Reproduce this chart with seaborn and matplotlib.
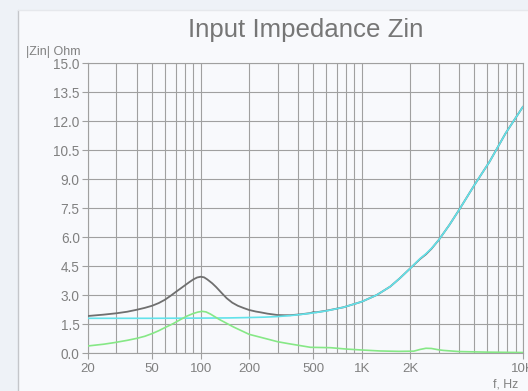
import matplotlib
matplotlib.use("Agg")
import matplotlib.pyplot as plt
import matplotlib.ticker as mticker
from matplotlib.patches import Rectangle
from matplotlib.lines import Line2D
import numpy as np
import pandas as pd
import seaborn as sns

# --- data -------------------------------------------------------------------
# total input impedance |Zin| (gray)
freq_total = [20, 25, 30, 35, 40, 45, 50, 55, 60, 65, 70, 75, 80, 85, 90, 95, 100,
              105, 110, 118, 125, 135, 145, 157, 170, 185, 200, 220, 235, 260,
              300, 330, 360, 420, 480, 500, 520, 600, 770, 1000, 1240, 1500,
              1720, 2000, 2300, 2500, 2700, 3000, 3500, 4000, 5000, 6200, 7800, 10000]
z_total = [1.93, 2.00, 2.07, 2.15, 2.25, 2.35, 2.46, 2.60, 2.77, 2.97, 3.17, 3.35,
           3.52, 3.68, 3.82, 3.92, 3.96, 3.93, 3.82, 3.62, 3.42, 3.12, 2.85, 2.62,
           2.46, 2.34, 2.24, 2.16, 2.12, 2.05, 1.98, 1.97, 1.97, 2.02, 2.08, 2.13,
           2.12, 2.20, 2.38, 2.67, 3.02, 3.45, 3.88, 4.40, 4.88, 5.12, 5.40, 5.86,
           6.65, 7.40, 8.71, 9.91, 11.38, 12.76]

# voice-coil (blocked) impedance (cyan)
freq_coil = [20, 50, 100, 150, 200, 250, 300, 360, 420, 500, 600, 770, 1000, 1240,
             1500, 1720, 2000, 2300, 2500, 2700, 3000, 3500, 4000, 5000, 6200,
             7800, 10000]
z_coil = [1.81, 1.81, 1.82, 1.83, 1.85, 1.87, 1.90, 1.95, 2.01, 2.09, 2.19, 2.38,
          2.67, 3.02, 3.45, 3.88, 4.40, 4.90, 5.15, 5.42, 5.86, 6.65, 7.40, 8.71,
          9.91, 11.38, 12.76]

# motional impedance (green)
freq_motion = [20, 25, 29, 35, 40, 45, 50, 55, 60, 67, 74, 82, 90, 96, 102, 108,
               115, 122, 130, 145, 160, 180, 200, 235, 270, 300, 350, 400, 480,
               640, 800, 1000, 1300, 1700, 2100, 2300, 2500, 2700, 3000, 3200,
               4000, 6000, 10000]
z_motion = [0.38, 0.47, 0.55, 0.67, 0.77, 0.88, 1.02, 1.17, 1.33, 1.52, 1.72, 1.92,
            2.06, 2.13, 2.17, 2.14, 2.03, 1.90, 1.76, 1.55, 1.36, 1.16, 0.98, 0.83,
            0.70, 0.60, 0.50, 0.42, 0.31, 0.29, 0.22, 0.17, 0.12, 0.10, 0.11, 0.20,
            0.26, 0.25, 0.18, 0.15, 0.09, 0.06, 0.04]

x_ticks = [20, 50, 100, 200, 500, 1000, 2000, 10000]
x_tick_labels = ["20", "50", "100", "200", "500", "1K", "2K", "10K"]
y_ticks = [0.0, 1.5, 3.0, 4.5, 6.0, 7.5, 9.0, 10.5, 12.0, 13.5, 15.0]

# --- style ------------------------------------------------------------------
sns.set_theme(style="white")
plt.rcParams["font.family"] = ["Liberation Sans", "DejaVu Sans"]

W, H = 528, 391
fig = plt.figure(figsize=(W / 100, H / 100), dpi=100)
fig.patch.set_facecolor("#eef2f7")

# panel behind the chart
panel = Rectangle((18 / W, 0), 1 - 18 / W, (H - 9.5) / H, transform=fig.transFigure,
                  facecolor="#f8f9fc", edgecolor="none", zorder=-10)
fig.patches.append(panel)
fig.lines.append(Line2D([18 / W, 18 / W], [0, (H - 9.5) / H], transform=fig.transFigure,
                        color="#c4c6ca", lw=1.0, zorder=-5))
fig.lines.append(Line2D([18 / W, 1], [(H - 9.5) / H] * 2, transform=fig.transFigure,
                        color="#e6e8ec", lw=1.0, zorder=-5))

ax = fig.add_axes([88 / W, (H - 353.3) / H, (523 - 88) / W, 290 / H])
ax.set_facecolor("none")
ax.set_zorder(1)

grid_c = "#a0a0a0"

df_total = pd.DataFrame({"f": freq_total, "z": z_total})
df_coil = pd.DataFrame({"f": freq_coil, "z": z_coil})
df_motion = pd.DataFrame({"f": freq_motion, "z": z_motion})

sns.lineplot(data=df_total, x="f", y="z", ax=ax, color="#6f6f6f", lw=1.3, zorder=3)
sns.lineplot(data=df_coil, x="f", y="z", ax=ax, color="#62e2ea", lw=1.2, zorder=4)
sns.lineplot(data=df_motion, x="f", y="z", ax=ax, color="#86e886", lw=1.2, zorder=5)

ax.set_xscale("log")
ax.set_xlim(20, 10000)
ax.set_ylim(0, 15)

ax.xaxis.set_major_locator(mticker.FixedLocator(x_ticks))
ax.xaxis.set_major_formatter(mticker.FixedFormatter(x_tick_labels))
ax.xaxis.set_minor_locator(mticker.LogLocator(base=10, subs=np.arange(1, 10)))
ax.xaxis.set_minor_formatter(mticker.NullFormatter())
ax.set_yticks(y_ticks)
ax.set_yticklabels([f"{v:.1f}" for v in y_ticks])

ax.grid(True, which="both", axis="x", color=grid_c, lw=0.8)
ax.grid(True, which="major", axis="y", color=grid_c, lw=0.8)
ax.set_axisbelow(True)

ax.tick_params(axis="x", which="major", length=4, width=0.8, color=grid_c,
               labelsize=9.5, labelcolor="#808080", pad=3, bottom=True)
ax.tick_params(axis="x", which="minor", length=0)
ax.tick_params(axis="y", length=4.5, width=0.8, color=grid_c,
               labelsize=9.8, labelcolor="#808080", pad=1.5, left=True)

for s in ax.spines.values():
    s.set_color(grid_c)
    s.set_linewidth(0.8)

ax.set_xlabel("")
ax.set_ylabel("")

fig.text(81 / W, 1 - 52 / H, "|Zin| Ohm", ha="right", va="center",
         fontsize=9, color="#808080")
fig.text(518 / W, 1 - 384.5 / H, "f, Hz", ha="right", va="center",
         fontsize=8.8, color="#808080")
fig.text(305.5 / W, 1 - 37 / H, "Input Impedance Zin", ha="center", va="baseline",
         fontsize=18.6, color="#767676")

fig.savefig("out.png", dpi=100, facecolor=fig.get_facecolor())
